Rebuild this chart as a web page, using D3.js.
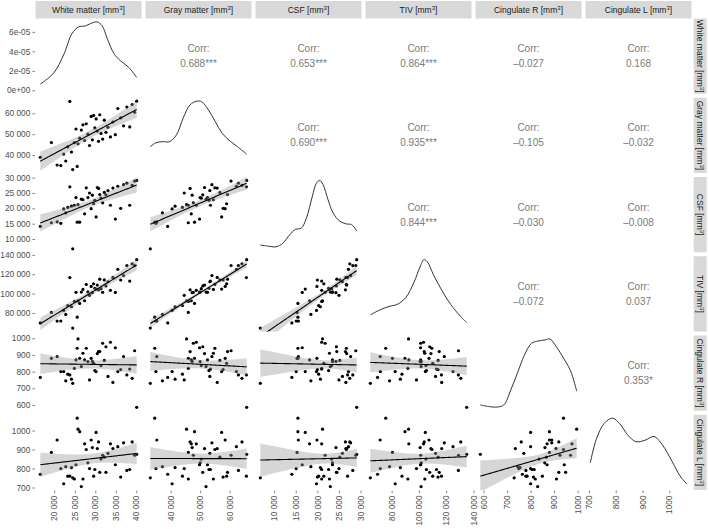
<!DOCTYPE html>
<html><head><meta charset="utf-8">
<script src="https://cdn.jsdelivr.net/npm/d3@7"></script>
<style>body{margin:0;background:#fff}</style>
</head><body><svg id="c" width="709" height="529"></svg>
<script>
// ---------- data, one entry per subject ----------
const varNames = ["White matter", "Gray matter", "CSF", "TIV", "Cingulate R", "Cingulate L"];
const whiteMatter = [16600,19300,20700,21600,22300,22800,23300,23800,24200,24500,24900,25300,25600,25800,26200,26600,27000,27400,27800,28200,28600,29000,29300,29600,29900,30200,30500,30800,31100,31400,31800,32200,32600,33100,33700,34300,34900,35500,36200,36900,37700,38400,39000,39600,40100];
const grayMatter  = [39000,46000,35300,35000,40500,37200,44000,65700,41500,33100,46000,52500,34600,45400,48100,52000,54500,47000,55000,50000,44600,58500,47300,59000,53000,57300,51500,46600,59300,50400,47700,56700,50900,53300,48700,55800,49800,62300,57800,54000,63000,53500,64200,60500,65800];
const csf         = [14100,15300,15600,15100,19800,18500,20300,27000,20700,6800,21000,23500,15500,21200,15500,23000,22800,18200,26700,23500,25000,19900,24300,21500,22600,17200,26800,26500,24500,23300,21800,25200,24400,25800,21000,26600,16500,27200,20000,27700,28200,21000,27500,28900,29100];
const tiv         = [69700,80600,71600,71700,82600,78500,87600,116500,86400,64400,91900,101300,75700,92400,89800,101600,104300,92600,109500,101700,98200,107400,100900,110100,105500,104700,108800,103900,114900,105100,101300,114100,107900,112200,103400,116700,101200,125000,114000,118600,128900,112900,130700,129000,135000];
const cingR       = [765,880,890,800,800,745,785,780,755,730,820,870,940,996,880,830,910,870,940,860,750,880,861,850,806,800,908,920,920,836,970,867,949,771,976,735,943,800,812,890,780,815,760,925,586];
const cingL       = [770,885,950,800,720,810,760,760,805,751,745,820,1065,1007,994,705,745,930,900,830,800,950,910,760,795,990,905,940,780,850,870,860,780,880,930,905,820,915,755,935,790,795,940,870,875];

// correlation labels of the upper panels (row, col)
const corrRow = [0,0,0,0,0,1,1,1,1,2,2,2,3,3,4];
const corrCol = [1,2,3,4,5,2,3,4,5,3,4,5,4,5,5];
const corrVal = ["0.688***","0.653***","0.864***","\u20130.027","0.168","0.690***","0.935***","\u20130.105","\u20130.032","0.844***","\u20130.030","\u20130.008","\u20130.072","0.037","0.353*"];

// axis ticks per variable
const tickValues = [[20000,25000,30000,35000,40000],[40000,50000,60000],[10000,15000,20000,25000,30000],[80000,100000,120000,140000],[600,700,800,900,1000],[700,800,900,1000]];
const densTicks = [0, 2e-5, 4e-5, 6e-5];
const densTickLabels = ["0e+00","2e-05","4e-05","6e-05"];

// diagonal density curves (x in variable units, y = density; WM in real units, others relative)
const densWM_x = [16600,19825,22276,24335,25953,27595,28820,30463,31688,32914,34531,36174,38208,40100];
const densWM_y = [0.64e-5,1.76e-5,3.63e-5,5.83e-5,6.51e-5,6.61e-5,6.85e-5,7.02e-5,6.61e-5,5.32e-5,3.79e-5,3.02e-5,2.34e-5,1.32e-5];
const densGM_x = [33100,35040,37320,39630,41950,44225,46540,48850,50580,52860,55170,57480,60350,62660,65800];
const densGM_y = [0.335,0.393,0.408,0.408,0.506,0.75,0.944,1.0,0.99,0.87,0.70,0.53,0.41,0.335,0.224];
const densCSF_x = [6800,8500,10460,11990,13555,14880,16280,17450,18840,19780,20545,21310,22480,23640,25205,26770,27930,29100];
const densCSF_y = [0.056,0.04,0.03,0.08,0.20,0.28,0.30,0.44,0.76,0.95,0.99,0.93,0.71,0.52,0.40,0.36,0.35,0.26];
const densTIV_x = [64400,72010,78090,84160,90310,96390,100780,103700,106120,111020,117100,123250,130570,135000];
const densTIV_y = [0.19,0.265,0.31,0.34,0.435,0.655,0.875,0.98,0.95,0.75,0.53,0.34,0.165,0.08];
const densCR_x = [586,621,658,686,716,745,773,803,832,861,882,904,933,970,996];
const densCR_y = [0.034,0.012,0.004,0.034,0.25,0.5,0.74,0.91,0.945,0.96,0.975,0.89,0.74,0.52,0.23];
const densCL_x = [705,727,757,788,814,844,875,909,943,973,1011,1040,1065];
const densCL_y = [0.345,0.68,0.915,0.99,0.915,0.75,0.65,0.67,0.725,0.61,0.36,0.155,0.04];

// ---------- layout ----------
const LEFT = 35.5, TOP = 18.5, PW = 106, PH = 75.25, GX = 4, GY = 4;
const STRIP_H = 17.5, RSTRIP_W = 13;
const AXIS_COL = "#4d4d4d", FONT = "'Liberation Sans', Arial, sans-serif";

const svg = d3.select("#c");
const vars = [whiteMatter, grayMatter, csf, tiv, cingR, cingL];
const dens = [[densWM_x,densWM_y],[densGM_x,densGM_y],[densCSF_x,densCSF_y],[densTIV_x,densTIV_y],[densCR_x,densCR_y],[densCL_x,densCL_y]];
const nV = vars.length;
const expand = ([a,b]) => [a-0.05*(b-a), b+0.05*(b-a)];
const axisLimits = vars.map(v => expand(d3.extent(v)));
const px = j => LEFT + j*(PW+GX);
const py = i => TOP + i*(PH+GY);
const xScale = j => d3.scaleLinear().domain(axisLimits[j]).range([px(j), px(j)+PW]);
const yScale = i => d3.scaleLinear().domain(axisLimits[i]).range([py(i)+PH, py(i)]);
const densYScale = k => { const m = d3.max(dens[k][1]); return d3.scaleLinear().domain([-0.05*m, 1.05*m]).range([py(k)+PH, py(k)]); };
const fmt = v => v >= 10000 ? d3.format(",")(v).replace(/,/g, " ") : String(v);

const defs = svg.append("defs");
for (let i=0;i<nV;i++) for (let j=0;j<nV;j++) {
  defs.append("clipPath").attr("id",`cp${i}_${j}`).append("rect").attr("x",px(j)).attr("y",py(i)).attr("width",PW).attr("height",PH);
}

function labelWithSup(sel, name) {
  sel.append("tspan").text(name + " [mm");
  sel.append("tspan").attr("dy", -3).attr("font-size", 6).text("3");
  sel.append("tspan").attr("dy", 3).text("]");
}

// strips
for (let j=0;j<nV;j++) {
  svg.append("rect").attr("x",px(j)).attr("y",TOP-STRIP_H).attr("width",PW).attr("height",STRIP_H).attr("fill","#d9d9d9");
  const t = svg.append("text").attr("x",px(j)+PW/2).attr("y",TOP-STRIP_H/2+3).attr("text-anchor","middle")
    .attr("font-family",FONT).attr("font-size",8.5).attr("fill","#1a1a1a");
  labelWithSup(t, varNames[j]);
}
const rx = px(nV-1)+PW+2.2;
for (let i=0;i<nV;i++) {
  svg.append("rect").attr("x",rx).attr("y",py(i)).attr("width",RSTRIP_W).attr("height",PH).attr("fill","#d9d9d9");
  const cx = rx + RSTRIP_W/2, cy = py(i)+PH/2;
  const t = svg.append("text").attr("transform",`translate(${cx-3},${cy}) rotate(90)`).attr("text-anchor","middle")
    .attr("font-family",FONT).attr("font-size",8.5).attr("fill","#1a1a1a");
  labelWithSup(t, varNames[i]);
}

// panels
for (let i=0;i<nV;i++) for (let j=0;j<nV;j++) {
  const g = svg.append("g").attr("clip-path",`url(#cp${i}_${j})`);
  if (i===j) {
    const xs = xScale(j), ys = densYScale(j);
    const [dx, dy] = dens[j];
    g.append("path").datum(d3.range(dx.length))
      .attr("d", d3.line().x(k=>xs(dx[k])).y(k=>ys(dy[k])).curve(d3.curveCatmullRom.alpha(0.5)))
      .attr("fill","none").attr("stroke","#333").attr("stroke-width",1);
  } else if (i>j) {
    const xs = xScale(j), ys = yScale(i);
    const X = vars[j], Y = vars[i], n = X.length;
    const mx = d3.mean(X), my = d3.mean(Y);
    let sxx=0, sxy=0; for (let k=0;k<n;k++){ sxx+=(X[k]-mx)**2; sxy+=(X[k]-mx)*(Y[k]-my); }
    const b = sxy/sxx, a = my - b*mx;
    let sse=0; for (let k=0;k<n;k++) sse += (Y[k]-a-b*X[k])**2;
    const s = Math.sqrt(sse/(n-2)), tq = 2.017;
    const [x0,x1] = d3.extent(X);
    const grid = d3.range(0,81).map(k => x0 + (x1-x0)*k/80);
    const se = x => s*Math.sqrt(1/n + (x-mx)**2/sxx);
    g.selectAll(null).data(d3.range(n)).join("circle")
      .attr("cx",k=>xs(X[k])).attr("cy",k=>ys(Y[k])).attr("r",1.6).attr("fill","#000");
    g.append("path").datum(grid)
      .attr("d", d3.area().x(x=>xs(x)).y0(x=>ys(a+b*x-tq*se(x))).y1(x=>ys(a+b*x+tq*se(x))))
      .attr("fill","#999").attr("fill-opacity",0.4);
    g.append("path").datum(grid)
      .attr("d", d3.line().x(x=>xs(x)).y(x=>ys(a+b*x)))
      .attr("fill","none").attr("stroke","#000").attr("stroke-width",1.1);
  }
}
// correlation texts
for (let k=0;k<corrVal.length;k++) {
  const i = corrRow[k], j = corrCol[k];
  const cx = px(j)+PW/2, cy = py(i)+PH/2;
  const t = svg.append("text").attr("text-anchor","middle").attr("font-family",FONT).attr("font-size",10).attr("fill","#7a7a7a");
  t.append("tspan").attr("x",cx).attr("y",cy-4).text("Corr:");
  t.append("tspan").attr("x",cx).attr("y",cy+11).text(corrVal[k]);
}

// left axes
for (let i=0;i<nV;i++) {
  const sc = i===0 ? densYScale(0) : yScale(i);
  const tv = i===0 ? densTicks : tickValues[i];
  const ax = d3.axisLeft(sc).tickValues(tv).tickSize(2.7).tickPadding(2)
    .tickFormat((d,k) => i===0 ? densTickLabels[k] : fmt(d));
  const g = svg.append("g").attr("transform",`translate(${LEFT-0.5},0)`).call(ax);
  g.select(".domain").remove();
  g.selectAll("line").attr("stroke","#333").attr("stroke-width",0.6);
  g.selectAll("text").attr("font-family",FONT).attr("font-size",8.3).attr("fill",AXIS_COL);
}
// bottom axes
const bottomY = py(nV-1)+PH;
for (let j=0;j<nV;j++) {
  const ax = d3.axisBottom(xScale(j)).tickValues(tickValues[j]).tickSize(2.7).tickPadding(2).tickFormat(fmt);
  const g = svg.append("g").attr("transform",`translate(0,${bottomY+0.5})`).call(ax);
  g.select(".domain").remove();
  g.selectAll("line").attr("stroke","#333").attr("stroke-width",0.6);
  g.selectAll("text").attr("font-family",FONT).attr("font-size",8.3).attr("fill",AXIS_COL)
    .attr("transform","rotate(-90)").attr("text-anchor","end").attr("dy","0.32em").attr("x",-5).attr("y",0);
}
</script></body></html>
